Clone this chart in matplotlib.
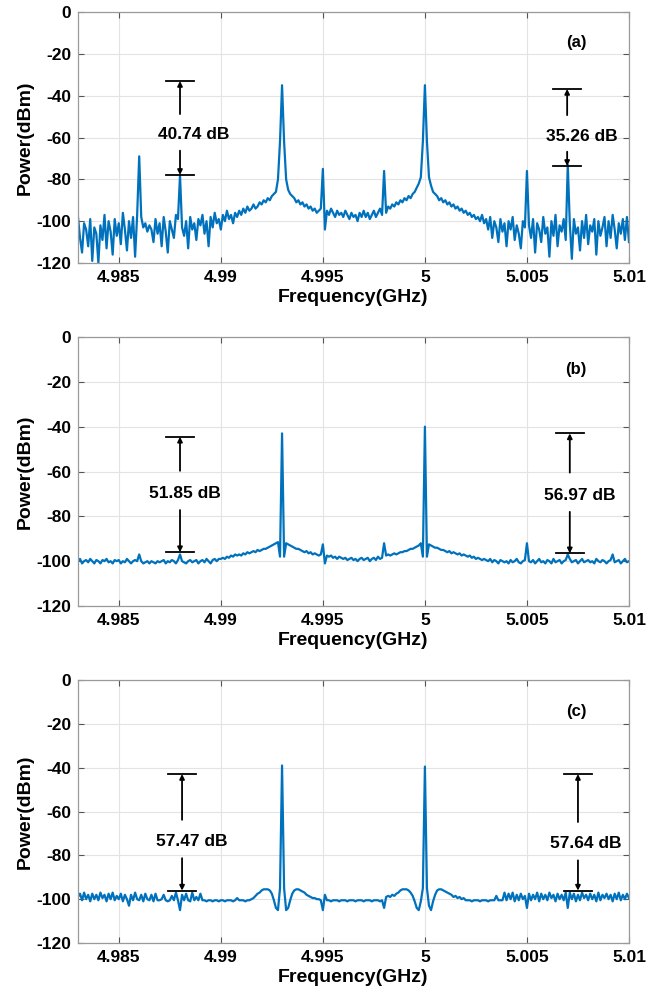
# Three RF spectra (a), (b), (c) with sideband suppression markers.
import matplotlib
matplotlib.use("Agg")
import matplotlib.pyplot as plt
import numpy as np

plt.rcParams['font.family'] = ['Liberation Sans', 'DejaVu Sans']
plt.rcParams['font.weight'] = 'bold'
plt.rcParams['axes.unicode_minus'] = False

# frequency grid: 4.983 .. 5.010 GHz, 0.0001 GHz step (one row = 0.001 GHz)
f_start = 4.983
f_step = 0.0001

# power in dBm, panel (a)
power_a = [
    -98, -108, -115, -101, -104, -112, -99, -119, -103, -106,
    -120, -102, -109, -97, -113, -100, -105, -116, -99, -107,
    -101, -111, -96, -104, -114, -100, -108, -98, -117, -97,
    -69, -98, -103, -101, -105, -102, -104, -110, -99, -106,
    -101, -112, -98, -105, -115, -100, -104, -108, -97, -99,
    -78, -103, -107, -100, -113, -98, -104, -101, -109, -99,
    -102, -97, -106, -100, -112, -98, -103, -96, -101, -99,
    -104, -97, -100, -95, -99, -97, -101, -96, -98, -95,
    -97, -94, -96, -93, -95, -94, -92, -94, -93, -91,
    -92, -90, -91, -89, -90, -88, -87, -86, -80, -62,
    -35, -62, -80, -85, -87, -88, -89, -91, -90, -92,
    -91, -93, -92, -94, -93, -95, -94, -96, -95, -94,
    -75, -104, -95, -97, -94, -96, -98, -95, -97, -96,
    -98, -95, -97, -99, -96, -98, -97, -100, -96, -98,
    -95, -98, -96, -99, -97, -95, -98, -96, -94, -97,
    -76, -96, -93, -94, -92, -93, -91, -92, -90, -91,
    -89, -90, -88, -89, -87, -86, -84, -82, -79, -62,
    -35, -62, -79, -83, -86, -87, -88, -90, -89, -91,
    -90, -92, -91, -93, -92, -94, -93, -95, -94, -96,
    -95, -97, -96, -98, -97, -99, -98, -100, -97, -101,
    -99, -104, -98, -108, -100, -103, -110, -99, -105, -101,
    -112, -100, -104, -98, -109, -102, -106, -113, -100, -103,
    -76, -102, -108, -99, -115, -101, -104, -110, -98, -106,
    -103, -117, -100, -107, -97, -112, -102, -105, -99, -109,
    -73, -101, -118, -99, -106, -103, -114, -100, -108, -97,
    -111, -102, -105, -99, -116, -100, -107, -103, -98, -112,
    -100, -108, -97, -104, -113, -101, -106, -99, -109, -98,
    -110,
]

# power in dBm, panel (b)
power_b = [
    -100, -99, -101, -100, -99.5, -100.5, -99, -100, -101, -99.5,
    -100, -101, -99.5, -100, -99, -100.5, -100, -101, -99.5, -100,
    -99.5, -101, -100, -100.5, -99, -100, -101, -100, -99.5, -100,
    -97, -100, -101, -100.5, -100, -101, -100, -100.5, -101, -100,
    -100.5, -100, -99.5, -101, -100, -100.5, -99.5, -100, -101, -99.5,
    -97, -100, -100.5, -101, -100, -99.5, -100.5, -100, -99.5, -101,
    -100, -99.5, -100.5, -99, -100, -101, -99.5, -99, -100, -99,
    -99, -98.5, -99, -98, -98.5, -97.5, -98, -97, -97.5, -97,
    -97.5, -96.5, -97, -96, -96.5, -96, -95.5, -96, -95, -95.5,
    -95, -94.5, -94.5, -94, -93.5, -93, -92.5, -92, -91.5, -98,
    -43, -98, -92, -92.5, -93, -93.5, -94, -94.5, -94.5, -95,
    -95.5, -96, -95.5, -96.5, -96, -97, -96.5, -97, -97.5, -97,
    -92.5, -101, -97.5, -98, -97.5, -98.5, -98, -99, -98, -98.5,
    -99, -98.5, -99.5, -99, -98.5, -99.5, -99, -100, -99, -98.5,
    -99.5, -99, -98.5, -100, -99, -98.5, -99.5, -98, -99, -98.5,
    -92, -97.5, -97, -97.5, -97, -96.5, -97, -96.5, -96, -96,
    -95.5, -95.5, -95, -94.5, -94.5, -94, -93.5, -93, -92, -98,
    -40, -98, -92.5, -93, -93.5, -94, -94, -94.5, -95, -95,
    -95.5, -96, -95.5, -96.5, -96, -96.5, -97, -96.5, -97.5, -97,
    -97.5, -98, -97.5, -98.5, -98, -99, -98.5, -99, -99.5, -99,
    -99.5, -100, -99, -100.5, -99.5, -100, -101, -99.5, -100, -100.5,
    -100, -101, -99.5, -100.5, -100, -99, -100.5, -101, -100, -99.5,
    -92, -100, -100.5, -99.5, -101, -100, -99, -100.5, -100, -101,
    -99.5, -100, -101, -99, -100.5, -100, -99.5, -101, -100, -99.5,
    -97, -99, -100.5, -100, -99.5, -101, -100, -99, -100.5, -100,
    -99.5, -100.5, -100, -101, -99, -100, -100.5, -99.5, -100, -101,
    -100, -99.5, -97, -100.5, -100, -99.5, -101, -100, -99, -100.5,
    -100,
]

# power in dBm, panel (c)
power_c = [
    -99, -97.5, -100.5, -97, -100, -98, -101, -97.5, -100, -98,
    -100.5, -97, -99.5, -98, -101, -97.5, -100, -97, -100.5, -98.5,
    -100, -97.5, -101, -98, -100, -103, -98, -100.5, -97, -100,
    -100.5, -98, -101, -97.5, -100, -100.5, -98, -101, -97.5, -100.5,
    -100.5, -100, -98, -100.5, -101, -100.5, -98.5, -100.5, -97, -100.5,
    -105, -98, -100.5, -97.5, -100.5, -101, -97, -100.5, -99, -100.5,
    -97.5, -100.5, -100.5, -101, -100.5, -100.5, -101, -100.5, -100.5, -101,
    -100.5, -100.5, -101, -100.5, -100.5, -100.5, -101, -100.5, -99.5, -100.5,
    -100.5, -100.5, -101, -100.5, -100.5, -100, -99.5, -98.5, -97.5, -97,
    -96, -95.5, -95.5, -95.5, -96, -97.5, -100.5, -104, -105, -95,
    -39, -95, -105, -104, -100.5, -97.5, -96, -95.5, -95.5, -96,
    -96.5, -97, -98, -98.5, -99, -99.5, -99.5, -100, -100, -100.5,
    -105, -98, -100.5, -100.5, -101, -100.5, -100.5, -100.5, -101, -100.5,
    -100.5, -100.5, -101, -100.5, -100.5, -100.5, -101, -100.5, -100.5, -100.5,
    -101, -100.5, -100.5, -100.5, -101, -100.5, -100.5, -100.5, -101, -100.5,
    -104, -99, -98.5, -99, -98, -98.5, -97.5, -97, -96, -95.5,
    -95.5, -95.5, -96, -97, -98.5, -101, -104, -105, -101, -95,
    -39.5, -95, -103, -105, -101, -98, -96, -95.5, -95.5, -96,
    -96.5, -97, -97.5, -98, -99, -98.5, -99.5, -99, -100, -99.5,
    -100.5, -100.5, -100.5, -101, -100.5, -100.5, -100.5, -101, -100.5, -100.5,
    -100.5, -101, -100.5, -100.5, -100.5, -98.5, -100.5, -100.5, -100.5, -97,
    -100.5, -97.5, -100, -97, -101, -98, -100.5, -97.5, -100, -98.5,
    -104, -97.5, -100.5, -98, -100, -97, -101, -97.5, -100, -98,
    -100.5, -97, -99.5, -98, -101, -97.5, -100, -98, -100.5, -97,
    -104, -97, -100, -97.5, -101, -98, -100.5, -97, -99.5, -98,
    -100.5, -97.5, -100, -98, -101, -97, -100.5, -98, -99.5, -97.5,
    -100, -98, -101, -97.5, -100, -97, -100.5, -98, -100, -97.5,
    -99.5,
]

panel_labels = ['(a)', '(b)', '(c)']

# suppression markers: arrow frequency, upper level, lower level, text
gap_freq = [[4.988, 5.00697], [4.988, 5.0071], [4.9881, 5.0075]]
gap_top = [[-33.0, -36.8], [-44.5, -43.0], [-42.9, -42.9]]
gap_bottom = [[-77.9, -73.6], [-96.0, -96.5], [-96.1, -96.1]]
gap_text = [['40.74 dB', '35.26 dB'], ['51.85 dB', '56.97 dB'], ['57.47 dB', '57.64 dB']]

xticks = [4.985, 4.99, 4.995, 5.0, 5.005, 5.01]
xtick_labels = ['4.985', '4.99', '4.995', '5', '5.005', '5.01']
yticks = [0, -20, -40, -60, -80, -100, -120]

# layout (figure fractions) and text placement
axes_rects = [[0.1185, 0.737, 0.8374, 0.251],
              [0.1185, 0.394, 0.8374, 0.269],
              [0.1185, 0.057, 0.8374, 0.263]]
text_pos = [[(4.98865, -58.8), (5.0077, -59.3)],
            [(4.98824, -69.7), (5.0076, -70.5)],
            [(4.98857, -73.8), (5.00786, -74.8)]]

fig = plt.figure(figsize=(6.58, 10), dpi=100)

for k, power in enumerate([power_a, power_b, power_c]):
    ax = fig.add_axes(axes_rects[k])
    freq = f_start + f_step * np.arange(len(power))
    ax.plot(freq, power, color='#0072BD', lw=1.6)

    ax.set_xlim(4.983, 5.010)
    ax.set_ylim(-120, 0)
    ax.set_xticks(xticks)
    ax.set_xticklabels(xtick_labels)
    ax.set_yticks(yticks)
    ax.tick_params(direction='in', length=4, width=0.8, top=True, right=True,
                   labelsize=12.5, color='#555555', pad=5)
    for lab in ax.get_xticklabels() + ax.get_yticklabels():
        lab.set_fontweight('bold')
    ax.grid(True, color='#e3e3e3', lw=0.8)
    ax.set_axisbelow(True)
    for s in ax.spines.values():
        s.set_color('#9a9a9a')
        s.set_linewidth(0.9)
    ax.set_xlabel('Frequency(GHz)', fontsize=14, fontweight='bold', labelpad=3)
    ax.set_ylabel('Power(dBm)', fontsize=14, fontweight='bold', labelpad=2)

    ax.text(5.0074, -14.5, panel_labels[k], fontsize=12, fontweight='bold',
            ha='center', va='center')

    for j in range(2):
        x = gap_freq[k][j]
        top = gap_top[k][j]
        bot = gap_bottom[k][j]
        tx, ty = text_pos[k][j]
        hw = 0.00068
        ax.plot([x - hw, x + hw], [top, top], color='k', lw=1.3)
        ax.plot([x - hw, x + hw], [bot, bot], color='k', lw=1.3)
        arrow = dict(arrowstyle='-|>', color='k', lw=1.3, mutation_scale=7,
                     shrinkA=0, shrinkB=0)
        ax.annotate('', xy=(x, top), xytext=(x, ty + 10), arrowprops=arrow)
        ax.annotate('', xy=(x, bot), xytext=(x, ty - 7.5), arrowprops=arrow)
        ax.text(tx, ty, gap_text[k][j], fontsize=12.5, fontweight='bold',
                ha='center', va='center')

fig.savefig('out.png', dpi=100)
